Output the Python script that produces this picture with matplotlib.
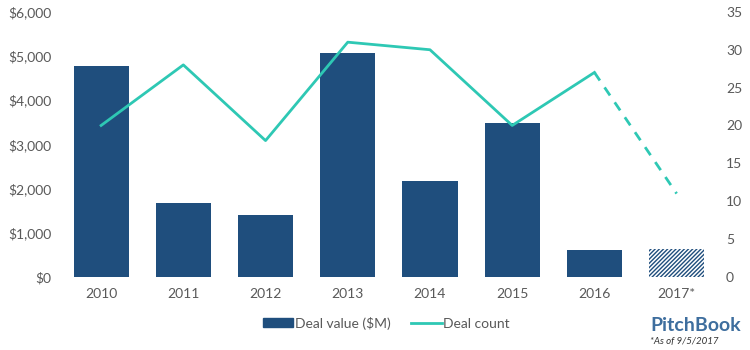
import matplotlib.pyplot as plt
from matplotlib.lines import Line2D
from matplotlib.patches import Patch

plt.rcParams['font.family'] = ['Lato', 'DejaVu Sans']
plt.rcParams['hatch.linewidth'] = 1.0

# data
years = ['2010', '2011', '2012', '2013', '2014', '2015', '2016', '2017*']
deal_value = [4780, 1670, 1400, 5070, 2170, 3480, 605, 630]
deal_count = [20, 28, 18, 31, 30, 20, 27, 11]

bar_color = '#1F4E7D'
line_color = '#2EC8B4'
text_color = '#595959'

fig = plt.figure(figsize=(7.5, 3.5), dpi=100)
ax = fig.add_axes([0.080, 0.209, 0.877, 0.757])
x = list(range(len(years)))

# solid bars, last one hatched (partial year)
ax.bar(x[:-1], deal_value[:-1], width=0.67, color=bar_color, zorder=2)
ax.bar(x[-1], deal_value[-1], width=0.67, facecolor='white', edgecolor=bar_color,
       hatch='////////', linewidth=0, zorder=2)

ax.set_ylim(0, 6000)
ax.set_xlim(-0.5, len(years) - 0.5)
ax.set_yticks(range(0, 6001, 1000))
ax.set_yticklabels([f'${v:,}' for v in range(0, 6001, 1000)])
ax.set_xticks(x)
ax.set_xticklabels(years)

ax2 = ax.twinx()
ax2.plot(x[:-1], deal_count[:-1], color=line_color, lw=2, zorder=3)
ax2.plot(x[-2:], deal_count[-2:], color=line_color, lw=2, ls=(0, (3.5, 3)), zorder=3)
ax2.set_ylim(0, 35)
ax2.set_yticks(range(0, 36, 5))

for a in (ax, ax2):
    for s in a.spines.values():
        s.set_visible(False)
    a.tick_params(length=0, labelsize=10, colors=text_color)
ax.tick_params(axis='x', pad=8)
ax.tick_params(axis='y', pad=6)
ax2.tick_params(axis='y', pad=6)

handles = [Patch(color=bar_color, label='Deal value ($M)'),
           Line2D([0], [0], color=line_color, lw=2, label='Deal count')]
fig.legend(handles=handles, loc='center', bbox_to_anchor=(0.515, 0.077), ncol=2,
           frameon=False, fontsize=10, labelcolor=text_color,
           handlelength=2.2, handleheight=0.6, handletextpad=0.1, columnspacing=1.5)

fig.text(0.988, 0.07, 'PitchBook', ha='right', va='center', fontsize=14,
         fontweight='bold', color='#3E6E9E')
fig.text(0.958, 0.025, '*As of 9/5/2017', ha='right', va='center', fontsize=7,
         style='italic', color='#333333')

fig.savefig('out.png', dpi=100)
